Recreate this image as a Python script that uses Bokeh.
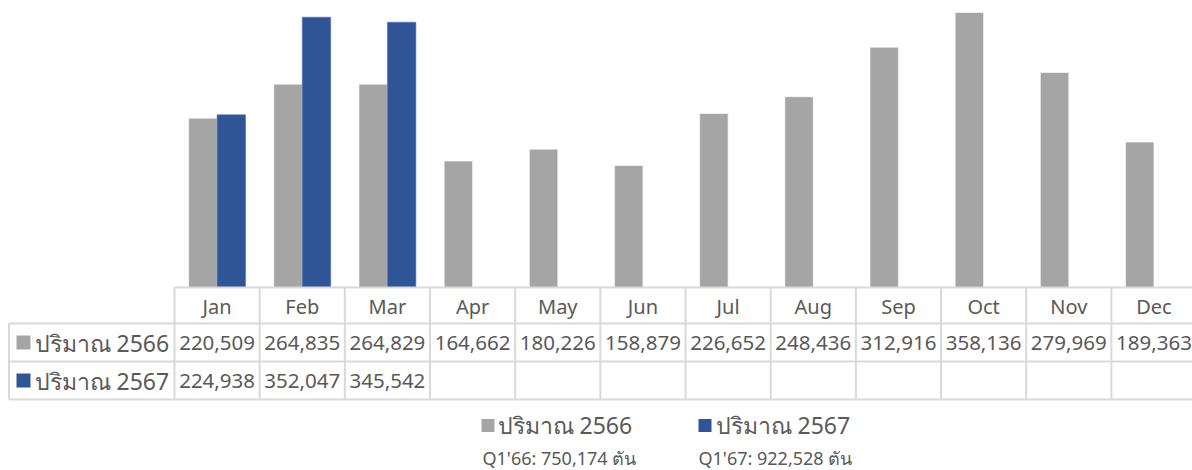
from bokeh.plotting import figure
from bokeh.models import Range1d, ColumnDataSource
from bokeh.transform import dodge
from bokeh.core.properties import value
from bokeh.embed import file_html
from bokeh.resources import INLINE

months = ["Jan", "Feb", "Mar", "Apr", "May", "Jun", "Jul", "Aug", "Sep", "Oct", "Nov", "Dec"]
vol_2566 = [220509, 264835, 264829, 164662, 180226, 158879, 226652, 248436, 312916, 358136, 279969, 189363]
vol_2567 = [224938, 352047, 345542]
series_names = ["ปริมาณ 2566", "ปริมาณ 2567"]
notes = ["Q1'66: 750,174 ตัน", "Q1'67: 922,528 ตัน"]

GRAY = "#A5A5A5"
BLUE = "#2F5597"
TXT = "#595959"
GRID = "#D9D9D9"
FONT = "Noto Sans"

W, H = 1192, 470
# layout in picture pixels (figure occupies 0..W, 0..H)
col_w = 85.17
x_first = 174.0
base_y = 287.0
px_per_val = 1.0 / 1302.5

# x in month units: column i spans [i-0.5, i+0.5]
xs = -0.5 - x_first / col_w
xe = xs + W / col_w
# y value range so that 0 sits at picture y=287
ys = -(H - base_y) / px_per_val
ye = base_y / px_per_val


def px2x(px):
    return xs + px / col_w


p = figure(width=W, height=H, x_range=Range1d(xs, xe), y_range=Range1d(ys, ye),
           output_backend="svg", toolbar_location=None, min_border=0,
           min_border_left=0, min_border_right=0, min_border_top=0, min_border_bottom=0)
p.axis.visible = False
p.grid.visible = False
p.outline_line_color = None
p.background_fill_color = "white"
p.border_fill_color = "white"
p.extra_y_ranges = {"px": Range1d(start=H, end=0)}

idx = list(range(len(months)))
src1 = ColumnDataSource(dict(x=idx, v=vol_2566))
src2 = ColumnDataSource(dict(x=idx[:len(vol_2567)], v=vol_2567))
p.vbar(x=dodge("x", -0.167, range=p.x_range), top="v", bottom=0, width=0.334, source=src1,
       fill_color=GRAY, line_color="white", line_width=0.6)
p.vbar(x=dodge("x", 0.167, range=p.x_range), top="v", bottom=0, width=0.334, source=src2,
       fill_color=BLUE, line_color="#5573AE", line_width=0.6)

# table geometry (picture px)
row_y = [287, 323, 361, 399]
tl = px2x(8.5)
last = len(months) - 0.5
p.segment(x0=[-0.5, tl, tl, tl], x1=[last + 0.2] * 4, y0=row_y, y1=row_y, y_range_name="px",
          line_color=GRID, line_width=2)
vx = [i - 0.5 for i in range(len(months) + 1)]
p.segment(x0=vx, x1=vx, y0=[287] * len(vx), y1=[399] * len(vx), y_range_name="px",
          line_color=GRID, line_width=2)
p.segment(x0=[tl], x1=[tl], y0=[323], y1=[399], y_range_name="px",
          line_color=GRID, line_width=2)

# header month labels
p.text(x=idx, y=[305.5] * 12, text=months, y_range_name="px", text_align="center",
       text_baseline="middle", text_font=value(FONT), text_font_size="20px", text_color=TXT)
# row values
p.text(x=idx, y=[342.5] * 12, text=[f"{v:,}" for v in vol_2566], y_range_name="px",
       text_align="center", text_baseline="middle", text_font=value(FONT),
       text_font_size="20.5px", text_color=TXT)
p.text(x=idx[:len(vol_2567)], y=[380.5] * len(vol_2567), text=[f"{v:,}" for v in vol_2567],
       y_range_name="px", text_align="center", text_baseline="middle", text_font=value(FONT),
       text_font_size="20.5px", text_color=TXT)

# row labels with keys
p.rect(x=[px2x(23)] * 2, y=[342, 380], width=14 / col_w, height=14, y_range_name="px",
       fill_color=[GRAY, BLUE], line_color=None)
p.text(x=[px2x(34)] * 2, y=[342.5, 380.5], text=series_names, y_range_name="px",
       text_align="left", text_baseline="middle", text_font=value(FONT),
       text_font_size="23px", text_color=TXT)

# legend below
p.rect(x=[px2x(487.5), px2x(704.5)], y=[425, 425], width=13 / col_w, height=13, y_range_name="px",
       fill_color=[GRAY, BLUE], line_color=None)
p.text(x=[px2x(497), px2x(715)], y=[424, 424], text=series_names, y_range_name="px",
       text_align="left", text_baseline="middle", text_font=value(FONT),
       text_font_size="23px", text_color=TXT)
p.text(x=[px2x(482), px2x(698)], y=[457, 457], text=notes, y_range_name="px",
       text_align="left", text_baseline="middle", text_font=value(FONT),
       text_font_size="18px", text_color=TXT)

open("out.html", "w").write(file_html(p, INLINE))
